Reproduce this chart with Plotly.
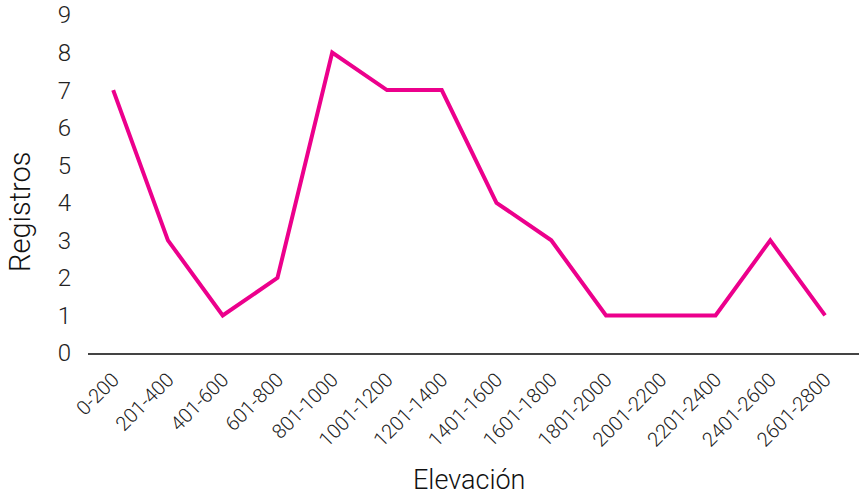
import plotly.graph_objects as go

categories = ["0-200", "201-400", "401-600", "601-800", "801-1000", "1001-1200",
              "1201-1400", "1401-1600", "1601-1800", "1801-2000", "2001-2200",
              "2201-2400", "2401-2600", "2601-2800"]
registros = [7, 3, 1, 2, 8, 7, 7, 4, 3, 1, 1, 1, 3, 1]
y_ticks = list(range(0, 10))

fig = go.Figure()
fig.add_trace(go.Scatter(
    x=categories, y=registros, mode="lines",
    line=dict(color="#EC008C", width=4),
    showlegend=False,
))

fig.update_layout(
    width=859, height=496,
    margin=dict(l=88, r=0, t=15, b=143),
    paper_bgcolor="white", plot_bgcolor="white",
    font=dict(family="Roboto", color="#222222"),
    xaxis=dict(
        type="category", range=[-0.46, 13.62],
        showgrid=False, zeroline=False,
        showline=True, linecolor="#444444", linewidth=2,
        tickangle=-45, ticks="", ticklabelstandoff=5,
        tickfont=dict(size=20, family="Roboto", weight=300, color="#222222"),
    ),
    yaxis=dict(
        range=[0, 9], tickvals=y_ticks,
        showgrid=False, zeroline=False, showline=False, ticks="",
        ticklabelstandoff=16, ticklabeloverflow="allow",
        tickfont=dict(size=24, family="Roboto", weight=300, color="#222222"),
    ),
    annotations=[
        dict(text="Elevación", xref="paper", yref="paper", x=0.494, y=-0.3757,
             xanchor="center", yanchor="middle", showarrow=False,
             font=dict(size=27, family="Roboto", weight=300, color="#111111")),
        dict(text="Registros", xref="paper", yref="paper", x=-0.0882, y=0.42,
             xanchor="center", yanchor="middle", showarrow=False, textangle=-90,
             font=dict(size=29, family="Roboto", weight=300, color="#111111")),
    ],
)

fig.write_html("out.html", config={"displayModeBar": False},
               post_script="document.body.style.margin='0';")
